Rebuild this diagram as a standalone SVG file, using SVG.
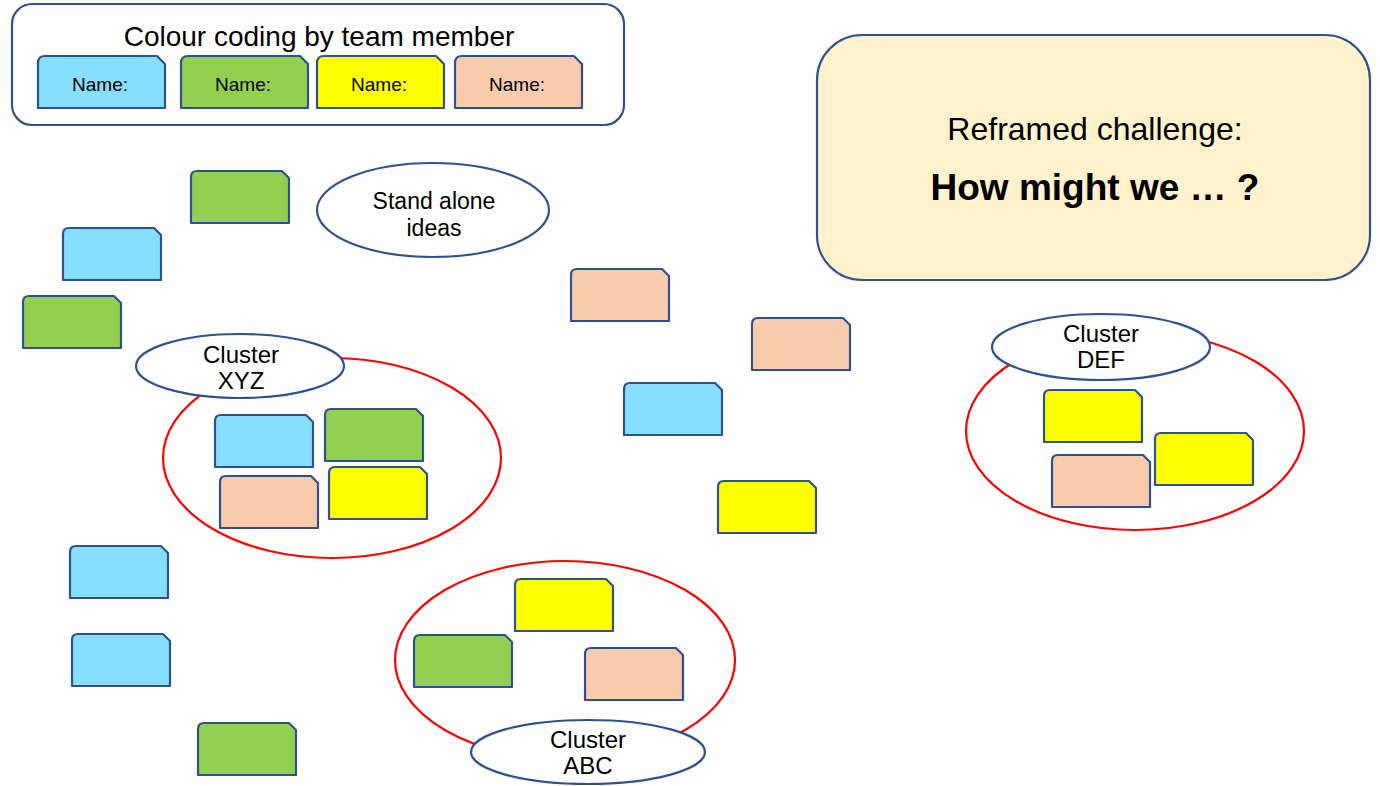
<svg xmlns="http://www.w3.org/2000/svg" width="1380" height="786" viewBox="0 0 1380 786">
  <defs>
    <style>
      .note { stroke: #2F528F; stroke-width: 2.2; stroke-linejoin: round; }
      .blue { fill: #87DFFF; }
      .green { fill: #92D050; }
      .yellow { fill: #FFFF00; }
      .peach { fill: #F8CBAD; }
      .cluster { fill: none; stroke: #FF0000; stroke-width: 2.2; }
      .label { fill: #FFFFFF; stroke: #2F528F; stroke-width: 2.2; }
      .frame { stroke: #2F528F; stroke-width: 2.2; }
      text { font-family: "Liberation Sans", Arial, sans-serif; fill: #000; text-anchor: middle; }
      .name { font-size: 19px; }
      .cap { font-size: 24px; }
    </style>
    <!-- idea note: rounded top-left, clipped top-right -->
    <path id="note" d="M0,52 V6 Q0,0 6,0 H91 L98,7 V52 Z"/>
    <path id="wide" d="M0,52 V7 Q0,0 7,0 H119 L127,8 V52 Z"/>
  </defs>

  <!-- legend -->
  <g id="legend">
    <rect x="12" y="4" width="612" height="121" rx="20" fill="#FFFFFF" class="frame"/>
    <text x="319" y="46" style="font-size:28px">Colour coding by team member</text>
    <use href="#wide" x="38" y="56" class="note blue"/>
    <text x="100" y="91" class="name">Name:</text>
    <use href="#wide" x="181" y="56" class="note green"/>
    <text x="243" y="91" class="name">Name:</text>
    <use href="#wide" x="317" y="56" class="note yellow"/>
    <text x="379" y="91" class="name">Name:</text>
    <use href="#wide" x="455" y="56" class="note peach"/>
    <text x="517" y="91" class="name">Name:</text>
  </g>

  <!-- challenge box -->
  <g id="challenge">
    <rect x="817" y="35" width="553" height="245" rx="45" fill="#FFF2CC" class="frame"/>
    <text x="1095" y="140" style="font-size:32px">Reframed challenge:</text>
    <text x="1095" y="200" style="font-size:37px;font-weight:bold">How might we … ?</text>
  </g>

  <!-- stand alone ideas -->
  <g id="standalone">
    <ellipse cx="433" cy="210" rx="116" ry="47" class="label"/>
    <text x="434" y="209" style="font-size:23px">Stand alone</text>
    <text x="434" y="236" style="font-size:23px">ideas</text>
    <use href="#note" x="191" y="171" class="note green"/>
    <use href="#note" x="63" y="228" class="note blue"/>
    <use href="#note" x="23" y="296" class="note green"/>
    <use href="#note" x="571" y="269" class="note peach"/>
    <use href="#note" x="752" y="318" class="note peach"/>
    <use href="#note" x="624" y="383" class="note blue"/>
    <use href="#note" x="718" y="481" class="note yellow"/>
    <use href="#note" x="70" y="546" class="note blue"/>
    <use href="#note" x="72" y="634" class="note blue"/>
    <use href="#note" x="198" y="723" class="note green"/>
  </g>

  <!-- cluster XYZ -->
  <g id="cluster-xyz">
    <ellipse cx="332" cy="458" rx="169" ry="100" class="cluster"/>
    <ellipse cx="240" cy="366" rx="104" ry="32" class="label"/>
    <text x="241" y="363" class="cap">Cluster</text>
    <text x="241" y="389" class="cap">XYZ</text>
    <use href="#note" x="215" y="415" class="note blue"/>
    <use href="#note" x="325" y="409" class="note green"/>
    <use href="#note" x="220" y="476" class="note peach"/>
    <use href="#note" x="329" y="467" class="note yellow"/>
  </g>

  <!-- cluster DEF -->
  <g id="cluster-def">
    <ellipse cx="1135" cy="431" rx="169" ry="99" class="cluster"/>
    <ellipse cx="1101" cy="347" rx="109" ry="33" class="label"/>
    <text x="1101" y="342" class="cap">Cluster</text>
    <text x="1101" y="368" class="cap">DEF</text>
    <use href="#note" x="1044" y="390" class="note yellow"/>
    <use href="#note" x="1155" y="433" class="note yellow"/>
    <use href="#note" x="1052" y="455" class="note peach"/>
  </g>

  <!-- cluster ABC -->
  <g id="cluster-abc">
    <ellipse cx="565" cy="660" rx="170" ry="99" class="cluster"/>
    <use href="#note" x="515" y="579" class="note yellow"/>
    <use href="#note" x="414" y="635" class="note green"/>
    <use href="#note" x="585" y="648" class="note peach"/>
    <ellipse cx="588" cy="752" rx="117" ry="32" class="label"/>
    <text x="588" y="748" class="cap">Cluster</text>
    <text x="588" y="774" class="cap">ABC</text>
  </g>

  <!-- no connectors in this layout -->
  <g id="connectors"/>
</svg>
